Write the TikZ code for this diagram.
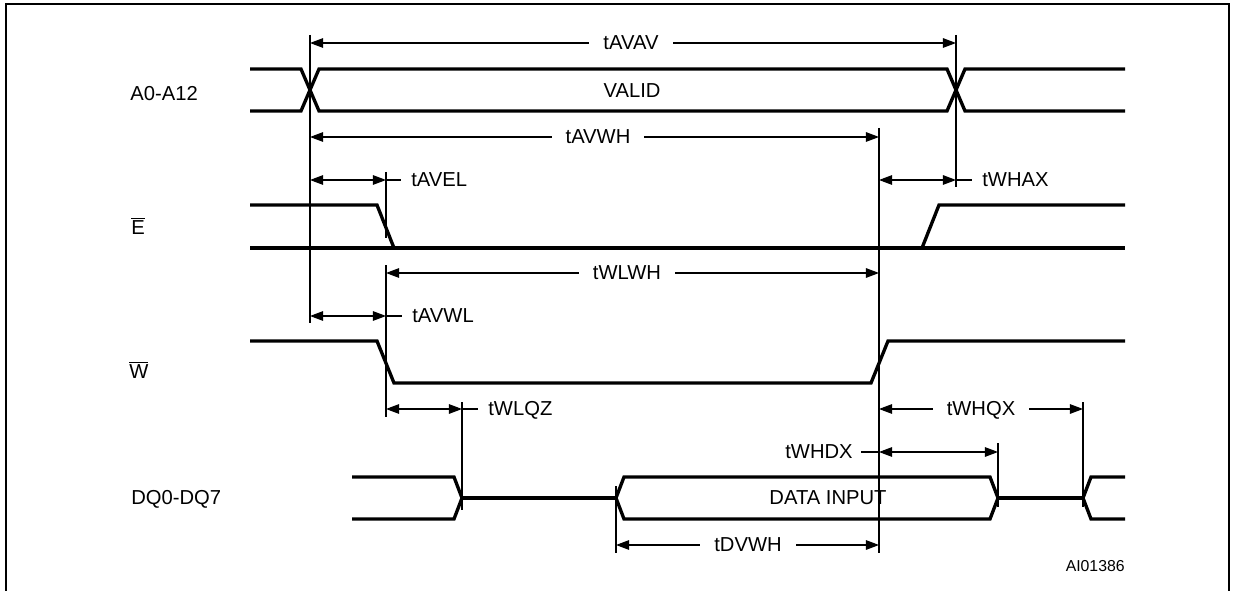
\documentclass[tikz,border=0pt]{standalone}
\usepackage{fontspec}
\setmainfont{Liberation Sans}
\usetikzlibrary{arrows.meta}
\begin{document}
\begin{tikzpicture}[x=0.02cm,y=-0.02cm,
  sig/.style={line width=1.9pt, line join=miter},
  thinln/.style={line width=0.6pt},
  dim/.style={thinln,{Triangle[length=7.5pt,width=5.5pt]}-{Triangle[length=7.5pt,width=5.5pt]}},
  lbl/.style={font=\fontsize{11.5}{13}\selectfont, inner sep=0pt, text height=0.716em, text depth=0pt},
  gaplbl/.style={lbl, fill=white, inner xsep=8pt, inner ysep=2pt},
  small/.style={font=\fontsize{9}{11}\selectfont, inner sep=0pt, text height=0.716em, text depth=0pt}]
\useasboundingbox (0,0) rectangle (1237,591);
% frame
\draw[line width=1.2pt] (6,591) -- (6,4) -- (1229,4) -- (1229,591);

% signal names
\node[lbl, anchor=west] (nA) at (130,94) {A0-A12};
\node[lbl, anchor=west] (nE) at (131,228) {$\overline{\mbox{E}}$};
\node[lbl, anchor=west] (nW) at (129,372) {$\overline{\mbox{W}}$};
\node[lbl, anchor=west] (nDQ) at (131,498) {DQ0-DQ7};

% address bus
\draw[sig] (250,69) -- (301,69) -- (319,111) -- (947,111) -- (965,69) -- (1125,69);
\draw[sig] (250,111) -- (301,111) -- (319,69) -- (947,69) -- (965,111) -- (1125,111);
\node[lbl] (valid) at (632,91) {VALID};

% E
\draw[sig] (250,205) -- (377,205) -- (394,248) -- (922,248) -- (939,205) -- (1125,205);
\draw[sig] (250,248) -- (1125,248);

% W
\draw[sig] (250,341) -- (377,341) -- (394,383) -- (871,383) -- (888,341) -- (1125,341);

% DQ
\draw[sig] (352,477) -- (454,477) -- (462,498) -- (454,519) -- (352,519);
\draw[sig] (462,498) -- (616,498);
\draw[sig] (616,498) -- (624,477) -- (990,477) -- (998,498) -- (990,519) -- (624,519) -- cycle;
\draw[sig] (998,498) -- (1083,498);
\draw[sig] (1125,477) -- (1091,477) -- (1083,498) -- (1091,519) -- (1125,519);
\node[lbl] (din) at (828,498) {DATA INPUT};

% reference lines
\draw[thinln] (310,35) -- (310,323);
\draw[thinln] (956,35) -- (956,187);
\draw[thinln] (879,128) -- (879,553);
\draw[thinln] (386,172) -- (386,238);
\draw[thinln] (386,265) -- (386,417);
\draw[thinln] (462,402) -- (462,510);
\draw[thinln] (616,486) -- (616,553);
\draw[thinln] (998,443) -- (998,507);
\draw[thinln] (1083,402) -- (1083,507);

% timing dimensions
\draw[dim] (310,43) -- (956,43);
\node[gaplbl] (tAVAV) at (631,43) {tAVAV};

\draw[dim] (310,137) -- (879,137);
\node[gaplbl] (tAVWH) at (598,137) {tAVWH};

\draw[dim] (310,180) -- (386,180);
\draw[thinln] (386,180) -- (401,180);
\node[lbl, anchor=west] (tAVEL) at (411,180) {tAVEL};

\draw[dim] (879,180) -- (956,180);
\draw[thinln] (956,180) -- (972,180);
\node[lbl, anchor=west] (tWHAX) at (982,180) {tWHAX};

\draw[dim] (386,273) -- (879,273);
\node[gaplbl] (tWLWH) at (627,273) {tWLWH};

\draw[dim] (310,316) -- (386,316);
\draw[thinln] (386,316) -- (402,316);
\node[lbl, anchor=west] (tAVWL) at (412,316) {tAVWL};

\draw[dim] (386,409) -- (462,409);
\draw[thinln] (462,409) -- (478,409);
\node[lbl, anchor=west] (tWLQZ) at (488,409) {tWLQZ};

\draw[dim] (879,409) -- (1083,409);
\node[gaplbl] (tWHQX) at (981,409) {tWHQX};

\draw[dim] (879,452) -- (998,452);
\draw[thinln] (861,452) -- (879,452);
\node[lbl, anchor=east] (tWHDX) at (853,452) {tWHDX};

\draw[dim] (616,545) -- (879,545);
\node[gaplbl] (tDVWH) at (748,545) {tDVWH};

\node[small, anchor=east] (code) at (1125,565) {AI01386};
\end{tikzpicture}
\end{document}
